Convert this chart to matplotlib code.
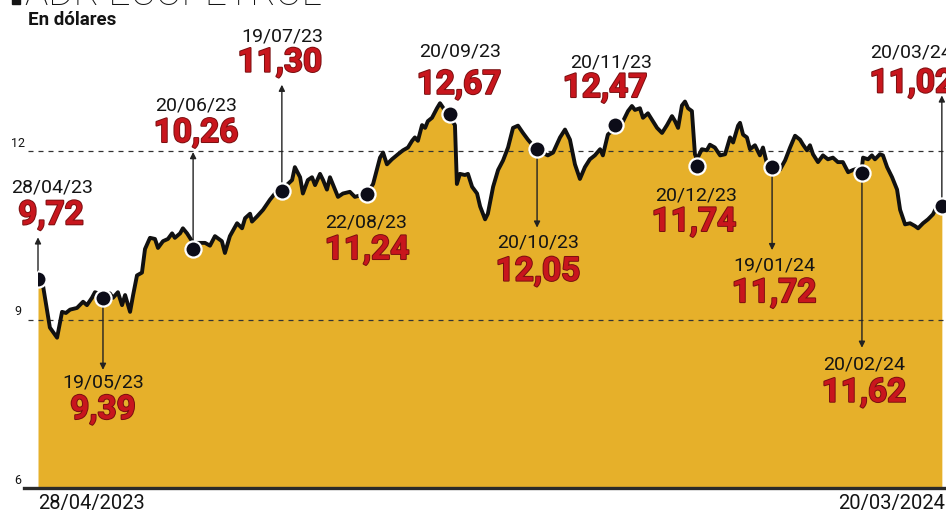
import matplotlib.pyplot as plt
import matplotlib.patheffects as pe
from matplotlib.patches import Rectangle

# ADR Ecopetrol, price in USD, days counted from 28/04/2023
days = [0, 1.8, 4.3, 6.9, 8.7, 10.1, 11.6, 14.1, 16.3, 17.7, 19.5, 20.6, 23.5, 26.0, 27.1,
        28.9, 30.4, 31.5, 33.3, 34.4, 35.8, 37.6, 38.7, 40.5, 42.3, 43.4, 45.2, 47.0, 48.5,
        49.5, 51.4, 52.4, 53.9, 56.1, 60.4, 62.2, 64.0, 66.5, 67.6, 69.4, 72.0, 73.8, 74.9,
        76.7, 77.4, 79.2, 81.4, 83.9, 85.7, 88.2, 91.9, 92.9, 94.8, 95.8, 97.6, 99.1, 100.2,
        102.0, 103.1, 104.5, 105.6, 107.4, 108.5, 110.3, 112.8, 114.6, 119.0, 121.2, 123.7,
        124.8, 126.2, 128.0, 130.2, 132.0, 133.8, 135.3, 136.3, 137.4, 138.9, 140.0, 141.0,
        142.5, 144.3, 145.4, 149.0, 150.8, 151.5, 152.6, 154.4, 155.5, 157.0, 158.8, 159.9,
        161.7, 162.7, 164.6, 166.4, 168.2, 170.0, 171.8, 173.6, 175.4, 177.2, 180.5, 184.4,
        186.3, 188.8, 190.6, 192.4, 194.2, 196.0, 197.8, 199.6, 201.4, 203.3, 204.3, 206.1,
        208.7, 211.6, 213.4, 214.8, 215.9, 217.7, 218.8, 220.6, 222.4, 223.9, 225.7, 227.5,
        229.3, 230.4, 231.5, 232.9, 234.0, 235.1, 236.5, 237.6, 238.3, 240.1, 241.9, 243.0,
        244.8, 246.7, 248.5, 250.3, 251.4, 253.2, 253.9, 255.0, 256.4, 257.5, 259.3, 261.1,
        262.2, 263.7, 265.5, 268.4, 270.2, 272.0, 273.8, 275.6, 276.7, 278.1, 279.2, 280.3,
        282.1, 283.9, 285.7, 287.5, 289.3, 291.1, 293.0, 294.8, 298.0, 298.4, 300.2, 301.6,
        302.7, 304.5, 305.6, 307.1, 308.9, 310.7, 311.8, 313.6, 315.4, 317.2, 318.3, 320.1,
        321.9, 323.7, 325.1, 326.9]
prices = [9.84, 9.61, 8.86, 8.68, 9.14, 9.12, 9.18, 9.21, 9.32, 9.26, 9.39, 9.49, 9.44, 9.47,
          9.39, 9.49, 9.26, 9.44, 9.14, 9.44, 9.79, 9.84, 10.26, 10.46, 10.44, 10.28, 10.40,
          10.44, 10.54, 10.46, 10.54, 10.63, 10.54, 10.37, 10.37, 10.32, 10.49, 10.40, 10.19,
          10.49, 10.72, 10.63, 10.81, 10.89, 10.75, 10.84, 10.96, 11.14, 11.25, 11.32, 11.49,
          11.72, 11.54, 11.25, 11.49, 11.54, 11.40, 11.60, 11.49, 11.32, 11.54, 11.32, 11.19,
          11.25, 11.28, 11.19, 11.25, 11.42, 11.89, 11.98, 11.77, 11.86, 11.95, 12.02, 12.07,
          12.19, 12.25, 12.19, 12.47, 12.42, 12.54, 12.60, 12.77, 12.86, 12.60, 12.47, 11.42,
          11.60, 11.58, 11.60, 11.37, 11.25, 11.02, 10.79, 10.89, 11.37, 11.67, 11.84, 12.07,
          12.42, 12.46, 12.33, 12.21, 12.02, 11.93, 11.98, 12.25, 12.39, 12.21, 11.77, 11.51,
          11.72, 11.86, 11.93, 12.04, 11.93, 12.30, 12.42, 12.54, 12.72, 12.81, 12.74, 12.77,
          12.60, 12.68, 12.54, 12.42, 12.33, 12.47, 12.63, 12.54, 12.42, 12.82, 12.89, 12.77,
          12.72, 11.95, 11.86, 12.04, 12.02, 12.12, 12.07, 11.93, 11.95, 12.25, 12.16, 12.46,
          12.51, 12.30, 12.25, 12.04, 12.11, 11.93, 12.07, 11.77, 11.75, 11.68, 11.84, 12.07,
          12.28, 12.21, 12.12, 12.02, 12.11, 11.95, 11.81, 11.93, 11.86, 11.89, 11.81, 11.81,
          11.63, 11.67, 11.72, 11.89, 11.86, 11.93, 11.86, 11.95, 11.93, 11.72, 11.54, 11.32,
          10.96, 10.70, 10.72, 10.67, 10.63, 10.72, 10.79, 10.88, 11.02, 11.07]

# highlighted points
ann_labels = ['28/04/23', '19/05/23', '20/06/23', '19/07/23', '22/08/23', '20/09/23',
              '20/10/23', '20/11/23', '20/12/23', '19/01/24', '20/02/24', '20/03/24']
ann_days = [0, 23.5, 56.1, 88.2, 119.0, 149.0, 180.5, 208.7, 238.3, 265.5, 298.0, 326.9]
ann_values = [9.72, 9.39, 10.26, 11.30, 11.24, 12.67, 12.05, 12.47, 11.74, 11.72, 11.62, 11.02]

yticks = [6, 9, 12]
start_label = '28/04/2023'
end_label = '20/03/2024'

# label placement in pixels relative to each dot: (value offset, date offset, arrow length)
value_off = [(13, 64), (0, -112), (3, 116), (-2, 128), (0, -56), (9, 29),
             (1, -123), (-10, 37), (-3, -56), (2, -126), (2, -220), (-30, 123)]
date_off = [(14, 92), (0, -85), (3, 144), (0, 154), (-1, -28), (10, 62),
            (1, -94), (-4, 63), (-1, -29), (2, -98), (2, -192), (-31, 154)]
arrow_len = [42, -72, 97, 106, 0, 0, -79, 0, 0, -83, -175, 111]

FILL = '#E6B02A'
RED = '#C8161D'
INK = '#141414'

plt.rcParams['font.family'] = ['Roboto', 'DejaVu Sans']

W, H = 946, 517
fig = plt.figure(figsize=(W / 100, H / 100), dpi=100)
fig.patch.set_facecolor('white')
ax = fig.add_axes([38 / W, 29 / H, 1 - 38 / W, 488 / H])
ax.set_xlim(0, 328.4)
ax.set_ylim(6, 14.7)
ax.axis('off')

# area + line
ax.fill_between(days, 6, prices, color=FILL, lw=0, zorder=1)
for t in yticks[1:]:
    ax.axhline(t, xmin=-0.011, xmax=1, color='#333333', lw=0.9, ls=(0, (4, 4)),
               zorder=2, clip_on=False)
ax.axhline(6, xmin=-0.015, xmax=1, color='#2a2a2a', lw=2.4, zorder=3, clip_on=False)
for t in yticks:
    ax.annotate(str(t), xy=(0, t), xycoords=('axes fraction', 'data'), xytext=(-20, 8),
                textcoords='offset pixels', ha='center', va='center', fontsize=9, color=INK)

ax.plot(days, prices, color='#111111', lw=2.8, solid_joinstyle='round', zorder=4)

# arrows, dots and labels
for i in range(len(ann_days)):
    d, v = ann_days[i], ann_values[i]
    if arrow_len[i] != 0:
        ax.annotate('', xy=(d, v), xytext=(0, arrow_len[i]), textcoords='offset pixels',
                    arrowprops=dict(arrowstyle='<|-', color='#222222', lw=1.0,
                                    mutation_scale=9, shrinkA=0, shrinkB=6),
                    zorder=5)
    ax.annotate(f'{v:.2f}'.replace('.', ','), xy=(d, v), xytext=value_off[i],
                textcoords='offset pixels', ha='center', va='center', fontsize=24,
                fontweight='bold', color=RED, zorder=7,
                path_effects=[pe.withStroke(linewidth=1.4, foreground='#7a0f10')])
    ax.annotate(ann_labels[i], xy=(d, v), xytext=date_off[i], textcoords='offset pixels',
                ha='center', va='center', fontsize=14, color=INK, zorder=7)

ax.scatter(ann_days, ann_values, s=135, color='#0c0c18', edgecolor='white',
           linewidth=1.6, zorder=6)

# texts around the chart
fig.text(28 / W, 1 - 20 / H, 'En dólares', ha='left', va='center', fontsize=13.5,
         fontweight='bold', color=INK)
fig.text(25 / W, 1 - 5 / H, 'ADR ECOPETROL', ha='left', va='baseline', fontsize=28,
         fontweight='light', color=INK)
fig.patches.append(Rectangle((12 / W, 1 - 4 / H), 8 / W, 12 / H, transform=fig.transFigure,
                             color=INK))
fig.text(38 / W, 1 - 503 / H, start_label, ha='left', va='center', fontsize=14.5,
         color=INK)
fig.text(1 - 1 / W, 1 - 503 / H, end_label, ha='right', va='center', fontsize=14.5,
         color=INK)

fig.savefig('out.png', dpi=100, facecolor=fig.get_facecolor())
